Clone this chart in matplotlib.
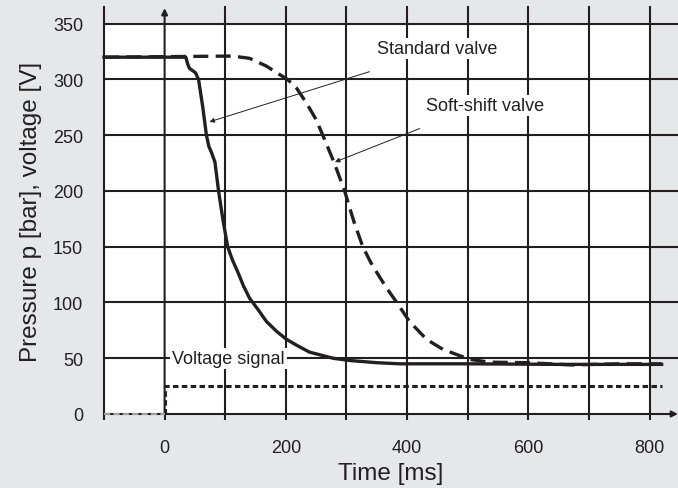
import matplotlib.pyplot as plt
from matplotlib.patches import Rectangle

plt.rcParams['font.family'] = ['Liberation Sans', 'DejaVu Sans']

# data
std_t = [-100, 35, 38, 41, 46, 51, 56, 63, 69, 73, 77, 83, 89, 96, 104, 112, 121, 130, 140,
         155, 168, 185, 201, 220, 239, 278, 305, 350, 388, 500, 650, 820]
std_p = [320, 320, 314, 310, 308, 306, 300, 275, 250, 240, 235, 226, 200, 175, 150, 138, 127,
         115, 104, 93, 83, 74, 67, 61, 55.5, 50, 48, 46, 45, 45, 44.5, 44.5]

soft_t = [-100, 112, 140, 168, 185, 203, 218, 235, 250, 261, 280, 297, 312, 327, 340, 350,
          365, 383, 404, 432, 459, 503, 536, 600, 670, 750, 820]
soft_p = [320, 321, 319, 312, 306, 300, 292, 278, 264, 250, 225, 200, 173, 150, 136, 127,
          114, 100, 83, 67, 58, 49, 46.5, 46, 44, 45, 45]

volt_t = [0, 0, 820]
volt_v = [0, 25, 25]
pre_t = [-100, 0]
pre_v = [0, 0]

xticks = [0, 200, 400, 600, 800]
yticks = [0, 50, 100, 150, 200, 250, 300, 350]

ink = '#231f20'
bg = '#e6e7e8'

fig = plt.figure(figsize=(6.78, 4.89), dpi=100, facecolor=bg)
ax = fig.add_axes([104/678, 74/489, 574/678, 407/489])
ax.set_facecolor(bg)
ax.set_xlim(-100, 847)
ax.set_ylim(0, 365)
for s in ax.spines.values():
    s.set_visible(False)

# white plot field
ax.add_patch(Rectangle((-100, 0), 900, 350, facecolor='white', edgecolor='none', zorder=0))

# grid
for x in range(-100, 801, 100):
    if x == 0:
        ax.annotate('', xy=(0, 364), xytext=(0, 0),
                    arrowprops=dict(arrowstyle='-|>', color=ink, lw=1.5, mutation_scale=9,
                                    shrinkA=0, shrinkB=0), zorder=1)
    else:
        ax.plot([x, x], [0, 365], color=ink, lw=1.5, zorder=1, clip_on=False)
for y in yticks[1:]:
    ax.plot([-100, 847], [y, y], color=ink, lw=1.5, zorder=1, clip_on=False)
ax.annotate('', xy=(847, 0), xytext=(-100, 0),
            arrowprops=dict(arrowstyle='-|>', color=ink, lw=1.5, mutation_scale=9,
                            shrinkA=0, shrinkB=0), zorder=1)

# curves
ax.plot(std_t, std_p, color=ink, lw=2.4, zorder=3, clip_on=False)
ax.plot(soft_t, soft_p, color=ink, lw=2.4, dashes=(4.5, 2.2), zorder=3, clip_on=False)
ax.plot(volt_t, volt_v, color=ink, lw=2.2, dashes=(1.8, 1.1), zorder=3, clip_on=False)
ax.plot(pre_t, pre_v, color='#a0a0a0', lw=1.5, dashes=(3, 1.5), zorder=3, clip_on=False)

# ticks
ax.set_xticks(xticks)
ax.set_xticks(range(-100, 801, 100), minor=True)
ax.set_yticks(yticks)
ax.tick_params(axis='x', which='both', direction='out', length=4, width=1.5, color=ink,
               labelsize=13, labelcolor=ink, pad=14)
ax.tick_params(axis='y', length=0, labelsize=13, labelcolor=ink, pad=15)
ax.set_xlabel('Time [ms]', fontsize=17.5, color=ink, labelpad=4)
ax.set_ylabel('Pressure p [bar], voltage [V]', fontsize=17.5, color=ink, labelpad=8)

# annotations
box = dict(facecolor='white', edgecolor='none', pad=1.5)
arr = dict(arrowstyle='-|>', color=ink, lw=0.7, mutation_scale=7, shrinkA=0, shrinkB=0)
ax.text(350, 327.5, 'Standard valve', fontsize=13, color=ink, ha='left', va='center',
        bbox=box, zorder=4)
ax.annotate('', xy=(74, 262), xytext=(338, 307), arrowprops=arr, zorder=4)
ax.text(432, 276.5, 'Soft-shift valve', fontsize=13, color=ink, ha='left', va='center',
        bbox=box, zorder=4)
ax.annotate('', xy=(281, 226), xytext=(421, 256), arrowprops=arr, zorder=4)
ax.text(13, 50, 'Voltage signal', fontsize=13, color=ink, ha='left', va='center',
        bbox=box, zorder=4)

fig.savefig('out.png', dpi=100, facecolor=bg)
